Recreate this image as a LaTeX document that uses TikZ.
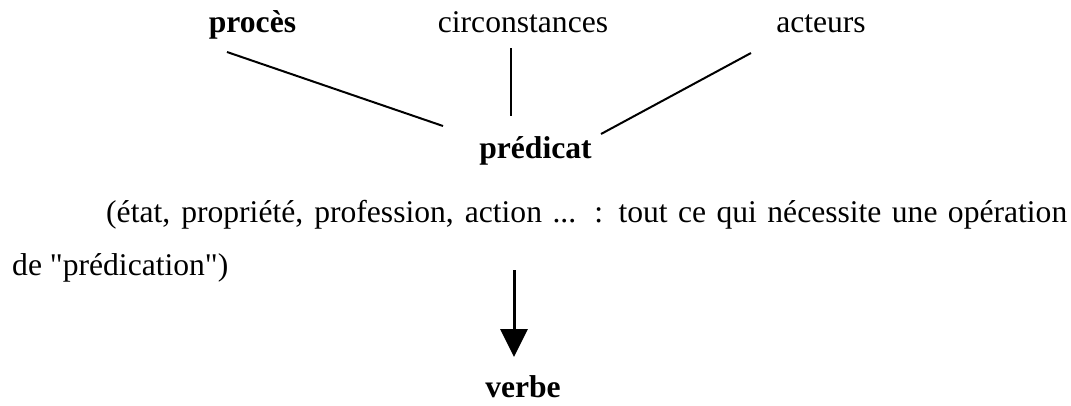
\documentclass[tikz,border=0pt]{standalone}
\usepackage{fontspec}
\newfontfamily\timesfont{Liberation Serif}
\usetikzlibrary{arrows.meta}
\begin{document}
\begin{tikzpicture}[x=1pt,y=-1pt,
  lbl/.style={anchor=base,inner sep=0pt,font=\timesfont\fontsize{31.6}{53}\selectfont},
  link/.style={line width=2pt},
  arr/.style={line width=3pt,-{Triangle[length=28pt,width=27pt]}}]
\useasboundingbox (0,0) rectangle (1071,405);
\node[lbl] (proces) at (252.5,32) {\bfseries procès};
\node[lbl] (circ) at (523,32) {circonstances};
\node[lbl] (act) at (821,32) {acteurs};
\node[lbl] (pred) at (535.5,158) {\bfseries prédicat};
\node[lbl,anchor=base west] (para) at (12,222)
  {\parbox[t]{1055pt}{\timesfont\fontsize{31.6}{53}\selectfont\noindent\hspace*{94pt}(état, propriété, profession, action ... : tout ce qui nécessite une opération\linebreak de "prédication")}};
\node[lbl,text depth=0pt] (verbe) at (523,397) {\bfseries verbe};
\coordinate (a1) at (227,52);
\coordinate (a2) at (443,126);
\coordinate (b1) at (511,48);
\coordinate (b2) at (511,116);
\coordinate (c1) at (751,53);
\coordinate (c2) at (601,134);
\coordinate (d1) at (514,270);
\coordinate (d2) at (514,357);
\draw[link] (a1) -- (a2);
\draw[link] (b1) -- (b2);
\draw[link] (c1) -- (c2);
\draw[arr] (d1) -- (d2);
\end{tikzpicture}
\end{document}
